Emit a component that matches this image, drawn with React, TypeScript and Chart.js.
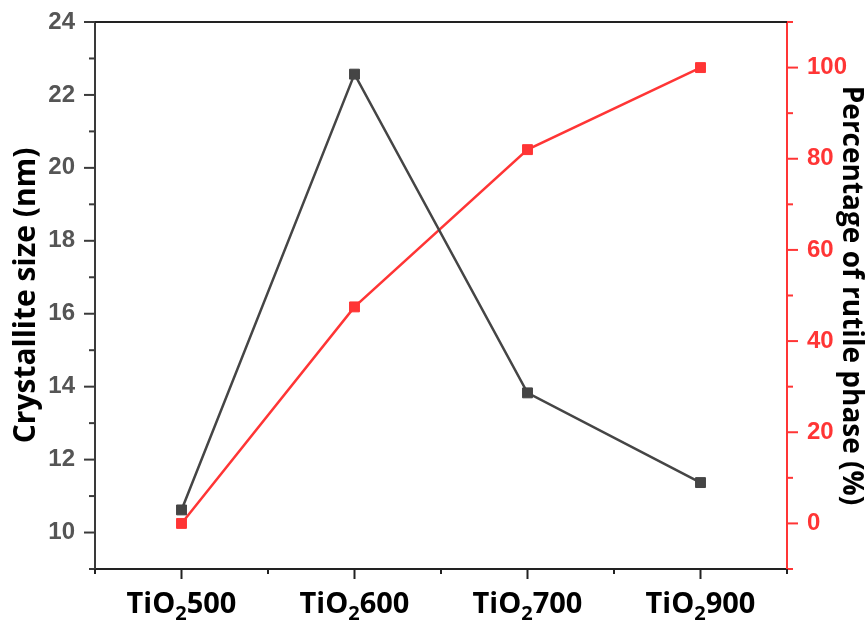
import React, { useEffect, useRef } from 'react';
import { Chart, registerables } from 'chart.js';

Chart.register(...registerables);

// ---- data ----
const categories = ['TiO₂500', 'TiO₂600', 'TiO₂700', 'TiO₂900'];
const crystalliteSize = [10.62, 22.57, 13.83, 11.37];
const rutilePercent = [0, 47.5, 82, 100];

const leftTickLabels = [10, 12, 14, 16, 18, 20, 22, 24];
const rightTickLabels = [0, 20, 40, 60, 80, 100];
const leftMin = 9;
const leftMax = 24;
const rightMin = -10;
const rightMax = 110;

const BLACK = '#454545';
const RED = '#ff3535';

const tickPlugin = {
  id: 'customTicks',
  afterDraw(chart: any) {
    const { ctx, chartArea: a } = chart;
    const xs = chart.scales.x;
    const yl = chart.scales.y;
    const yr = chart.scales.y1;
    ctx.save();
    ctx.lineWidth = 2;
    const line = (x1: number, y1: number, x2: number, y2: number) => {
      ctx.beginPath();
      ctx.moveTo(x1, y1);
      ctx.lineTo(x2, y2);
      ctx.stroke();
    };
    ctx.strokeStyle = '#222';
    line(a.left - 1, a.top, a.right, a.top);
    ctx.strokeStyle = '#3a3a3a';
    for (let v = leftMin; v <= leftMax; v += 1) {
      const py = yl.getPixelForValue(v);
      const len = leftTickLabels.includes(v) ? 11 : 6;
      line(a.left - len, py, a.left, py);
    }
    ctx.strokeStyle = RED;
    for (let v = rightMin; v <= rightMax; v += 10) {
      const py = yr.getPixelForValue(v);
      const len = rightTickLabels.includes(v) ? 11 : 6;
      line(a.right, py, a.right + len, py);
    }
    ctx.strokeStyle = '#222';
    for (let i = -0.5; i <= categories.length - 0.5; i += 0.5) {
      const px = xs.getPixelForValue(i);
      const len = Number.isInteger(i) ? 10 : 5;
      line(px, a.bottom, px, a.bottom + len);
    }
    const mainFont = 'bold 29px "Open Sans"';
    const subFont = 'bold 20px "Open Sans"';
    const baseY = 613;
    ctx.fillStyle = '#000';
    ctx.textBaseline = 'alphabetic';
    ctx.textAlign = 'left';
    categories.forEach((lab, i) => {
      const [pre, post] = lab.split('₂');
      ctx.font = mainFont;
      const wPre = ctx.measureText(pre).width;
      const wPost = ctx.measureText(post).width;
      ctx.font = subFont;
      const wSub = ctx.measureText('2').width;
      const total = wPre + wSub + wPost;
      const px = xs.getPixelForValue(i);
      let sx = px - total / 2;
      ctx.font = mainFont;
      ctx.fillText(pre, sx, baseY);
      sx += wPre;
      ctx.font = subFont;
      ctx.fillText('2', sx, baseY + 7);
      sx += wSub;
      ctx.font = mainFont;
      ctx.fillText(post, sx, baseY);
    });
    ctx.restore();
  },
};

export default function App() {
  const ref = useRef<HTMLCanvasElement | null>(null);
  useEffect(() => {
    if (!ref.current) return;
    const zeroPad = (s: any) => {
      s.paddingTop = 0;
      s.paddingBottom = 0;
      s.paddingLeft = 0;
      s.paddingRight = 0;
    };
    const chart = new Chart(ref.current, {
      type: 'line',
      data: {
        labels: categories,
        datasets: [
          {
            label: 'Crystallite size (nm)',
            data: crystalliteSize,
            yAxisID: 'y',
            borderColor: BLACK,
            backgroundColor: BLACK,
            borderWidth: 2.5,
            pointStyle: 'rect',
            pointRadius: 7,
            pointBorderWidth: 1,
            pointBackgroundColor: BLACK,
            pointBorderColor: BLACK,
            tension: 0,
            clip: false as any,
          },
          {
            label: 'Percentage of rutile phase (%)',
            data: rutilePercent,
            yAxisID: 'y1',
            borderColor: RED,
            backgroundColor: RED,
            borderWidth: 2.5,
            pointStyle: 'rect',
            pointRadius: 7,
            pointBorderWidth: 1,
            pointBackgroundColor: RED,
            pointBorderColor: RED,
            tension: 0,
            clip: false as any,
          },
        ],
      },
      options: {
        responsive: false,
        animation: false,
        devicePixelRatio: 1,
        layout: { padding: { top: 22, left: 0, right: 0, bottom: 0 } },
        plugins: { legend: { display: false }, tooltip: { enabled: false } },
        scales: {
          x: {
            type: 'category',
            offset: true,
            grid: { display: false, drawTicks: false },
            border: { display: true, color: '#222', width: 2 },
            ticks: { display: false },
            afterFit: (s: any) => {
              s.height = 51;
              zeroPad(s);
            },
          },
          y: {
            position: 'left',
            min: leftMin,
            max: leftMax,
            afterBuildTicks: (s: any) => {
              s.ticks = leftTickLabels.map((v) => ({ value: v }));
            },
            grid: { display: false, drawTicks: false },
            border: { display: true, color: '#3a3a3a', width: 2 },
            ticks: {
              autoSkip: false,
              padding: 20,
              color: '#555',
              font: { family: '"Liberation Sans", Arial', size: 24, weight: 'bold' },
            },
            title: {
              display: true,
              text: 'Crystallite size (nm)',
              color: '#000',
              font: { family: '"Open Sans"', size: 30, weight: 'bold', lineHeight: 1 },
              padding: { top: 11, bottom: 0 },
            },
            afterFit: (s: any) => {
              s.width = 95;
              zeroPad(s);
            },
          },
          y1: {
            position: 'right',
            min: rightMin,
            max: rightMax,
            afterBuildTicks: (s: any) => {
              s.ticks = rightTickLabels.map((v) => ({ value: v }));
            },
            grid: { display: false, drawTicks: false },
            border: { display: true, color: RED, width: 2 },
            ticks: {
              autoSkip: false,
              padding: 20,
              color: RED,
              font: { family: '"Liberation Sans", Arial', size: 24, weight: 'bold' },
            },
            title: {
              display: true,
              text: 'Percentage of rutile phase (%)',
              color: '#000',
              font: { family: '"Open Sans"', size: 28, weight: 'bold', lineHeight: 1 },
              padding: { top: 2, bottom: 0 },
            },
            afterFit: (s: any) => {
              s.width = 80;
              zeroPad(s);
            },
          },
        },
      } as any,
      plugins: [tickPlugin],
    });
    return () => chart.destroy();
  }, []);
  return (
    <div style={{ position: 'absolute', left: 0, top: 0, width: 867, height: 620, background: '#fff' }}>
      <canvas ref={ref} width={867} height={620} style={{ display: 'block' }} />
    </div>
  );
}
